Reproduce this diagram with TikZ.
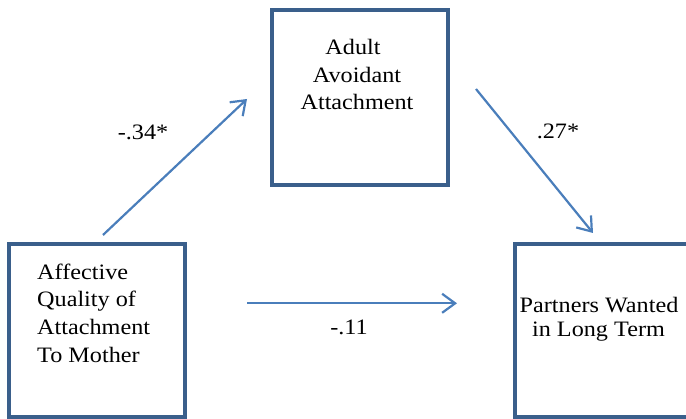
\documentclass[tikz,border=0pt]{standalone}
\usepackage{fontspec}
\setmainfont{Liberation Serif}[FakeStretch=1.1]
\usetikzlibrary{arrows.meta}
\definecolor{boxblue}{HTML}{3A5F8B}
\definecolor{arrblue}{HTML}{4A7EBB}
\begin{document}
\begin{tikzpicture}[x=1pt,y=-1pt,
  varbox/.style={draw=boxblue, line width=4pt, inner sep=0pt, minimum width=176pt, minimum height=174pt},
  txt/.style={inner sep=0pt, font=\fontsize{22}{27}\selectfont},
  lbl/.style={inner sep=0pt, font=\fontsize{22}{27}\selectfont, anchor=base},
  path/.style={draw=arrblue, line width=2.2pt, -{Straight Barb[length=13pt, width=19pt, line width=2.2pt]}}]
\useasboundingbox (0,0) rectangle (686,419);
\clip (0,0) rectangle (686,419);
% boxes
\node[varbox, minimum height=173.5pt] (mother) at (97,330.75) {};
\node[varbox, minimum height=175pt] (avoid) at (360,97.5) {};
\node[varbox, minimum height=173.5pt] (partners) at (603,330.75) {};
% texts in left box
\node[txt, anchor=base west] (m1) at (37,279.3) {Affective};
\node[txt, anchor=base west] (m2) at (37,307) {Quality of};
\node[txt, anchor=base west] (m3) at (37,334.7) {Attachment};
\node[txt, anchor=base west] (m4) at (37,362.3) {To Mother};
% texts in top box
\node[txt, anchor=base] (a1) at (353,55) {Adult};
\node[txt, anchor=base] (a2) at (357,82.4) {Avoidant};
\node[txt, anchor=base] (a3) at (357,110) {Attachment};
% texts in right box
\node[txt, anchor=base] (p1) at (599,312.8) {Partners Wanted};
\node[txt, anchor=base] (p2) at (598.5,336.3) {in Long Term};
% connectors
\coordinate (s1) at (103,235);
\coordinate (e1) at (247,99);
\coordinate (s2) at (476,89);
\coordinate (e2) at (593,233);
\coordinate (s3) at (247,303.3);
\coordinate (e3) at (457,303.3);
\draw[path] (s1) -- (e1);
\draw[path] (s2) -- (e2);
\draw[path] (s3) -- (e3);
% labels
\node[lbl] (l1) at (143,140) {-.34*};
\node[lbl] (l2) at (558,138.3) {.27*};
\node[lbl] (l3) at (349,335) {-.11};
\end{tikzpicture}
\end{document}
